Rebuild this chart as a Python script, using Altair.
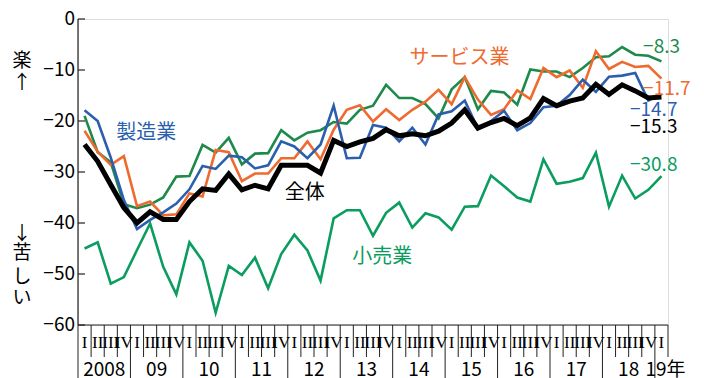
import altair as alt
import pandas as pd

# ---------------- data ----------------
roman = ["I", "II", "III", "IV"]
year_labels = ["2008", "09", "10", "11", "12", "13", "14", "15", "16", "17", "18"]
last_year_label = "19年"
y_ticks = [0, -10, -20, -30, -40, -50, -60]
y_tick_labels = ["0", "−10", "−20", "−30", "−40", "−50", "−60"]

overall = [-24.6, -27.9, -32.5, -37.0, -40.0, -37.8, -39.3, -39.3, -35.8, -33.3,
           -33.6, -30.4, -33.5, -32.6, -33.3, -28.7, -28.7, -28.7, -30.2, -23.8,
           -25.0, -24.1, -23.4, -21.7, -22.9, -22.5, -22.9, -22.0, -20.4, -17.8,
           -21.4, -20.3, -19.5, -20.9, -19.4, -15.6, -17.0, -16.1, -15.5, -12.8,
           -14.8, -12.9, -14.1, -15.5, -15.3]
manufacturing = [-17.9, -20.0, -27.2, -35.5, -41.2, -39.4, -37.9, -36.2, -33.4, -28.8,
                 -29.4, -26.8, -27.1, -29.3, -28.7, -24.0, -25.0, -27.3, -24.6, -17.0,
                 -27.3, -27.2, -20.8, -21.3, -24.0, -21.3, -24.6, -18.7, -18.1, -16.0,
                 -21.5, -20.0, -18.0, -21.8, -20.4, -17.3, -17.0, -14.9, -11.9, -14.3,
                 -11.3, -11.1, -10.6, -16.0, -14.7]
services = [-21.9, -26.0, -28.6, -26.9, -36.7, -35.8, -38.5, -38.3, -34.2, -34.8,
            -25.7, -26.1, -31.8, -30.3, -30.3, -27.3, -27.3, -24.0, -27.5, -21.7,
            -17.8, -16.9, -20.1, -17.7, -19.8, -17.8, -16.2, -13.9, -16.7, -11.4,
            -15.8, -18.8, -17.7, -14.0, -15.7, -9.6, -11.4, -10.1, -13.5, -6.3,
            -9.8, -8.4, -9.4, -9.2, -11.7]
other = [-19.0, -26.1, -28.1, -36.3, -37.1, -36.4, -35.0, -30.9, -30.8, -24.7,
         -26.2, -23.3, -28.5, -26.4, -26.3, -21.8, -23.8, -22.3, -21.8, -20.2,
         -20.5, -17.8, -17.0, -12.9, -15.5, -15.5, -16.7, -19.5, -13.8, -11.4,
         -17.7, -14.1, -14.4, -16.8, -9.9, -10.3, -10.3, -11.4, -9.6, -7.5,
         -7.3, -5.5, -7.0, -7.2, -8.3]
retail = [-45.0, -43.8, -51.9, -50.6, -45.3, -40.1, -48.6, -54.0, -43.8, -47.4,
          -57.6, -48.4, -50.2, -46.8, -52.8, -46.1, -42.3, -45.4, -51.3, -39.1,
          -37.5, -37.5, -42.5, -38.0, -36.0, -40.9, -38.1, -38.9, -41.3, -36.8,
          -36.7, -30.7, -32.8, -35.0, -35.8, -27.5, -32.3, -31.9, -31.2, -26.2,
          -36.8, -30.7, -35.2, -33.5, -30.8]

series_names = ["その他", "サービス業", "製造業", "小売業"]
series_colors = ["#1d8a4c", "#ef6a2f", "#2b5fad", "#0b9c60"]
black = "#000000"

# labels: text, x (quarter index), y (value), colour
name_labels = [
    ("製造業", 4.7, -22.3, "#2b5fad"),
    ("サービス業", 28.6, -7.6, "#ef6a2f"),
    ("全体", 16.8, -34.1, black),
    ("小売業", 22.7, -46.6, "#0b9c60"),
]
end_labels = [
    ("−8.3", 42.6, -5.4, "#1d8a4c"),
    ("−11.7", 42.6, -13.7, "#ef6a2f"),
    ("−14.7", 41.6, -17.8, "#2b5fad"),
    ("−15.3", 41.6, -21.1, black),
    ("−30.8", 41.6, -28.6, "#0b9c60"),
]
side_labels = [("楽", -8.2), ("↑", -12.5), ("↓", -42.1), ("苦", -45.8), ("し", -50.5), ("い", -54.8)]
side_x = -4.77

# ---------------- build tables ----------------
n = len(overall)
W, H = 590, 306
JP = "Noto Sans CJK JP"

rows = []
for name, vals in zip(series_names, [other, services, manufacturing, retail]):
    for i, v in enumerate(vals):
        rows.append({"idx": i, "value": v, "series": name})
df_col = pd.DataFrame(rows)
df_all = pd.DataFrame({"idx": list(range(n)), "value": overall})

x_scale = alt.Scale(domain=[-0.5, n - 0.5], nice=False, zero=False)
y_scale = alt.Scale(domain=[-60, 0], nice=False, zero=False)

X = lambda f: alt.X(f, scale=x_scale, axis=None)
Y = lambda f: alt.Y(f, scale=y_scale, axis=None)

colored = alt.Chart(df_col).mark_line(strokeWidth=2.6).encode(
    x=X("idx:Q"), y=Y("value:Q"),
    color=alt.Color("series:N", scale=alt.Scale(domain=series_names, range=series_colors), legend=None),
)

total_line = alt.Chart(df_all).mark_line(strokeWidth=5, color=black).encode(
    x=X("idx:Q"), y=Y("value:Q"),
)

# y axis line, inward ticks and labels
y_domain = alt.Chart(pd.DataFrame({"a": [0]})).mark_rule(color="#222", strokeWidth=1.2).encode(
    x=alt.value(0), y=alt.value(0), y2=alt.value(H),
)
df_t = pd.DataFrame({"t": y_ticks, "lab": y_tick_labels})
ticks = alt.Chart(df_t).mark_rule(color="#222", strokeWidth=1.2).encode(
    y=Y("t:Q"), x=alt.value(0), x2=alt.value(7),
)
tick_text = alt.Chart(df_t).mark_text(font=JP, fontSize=19, align="right", baseline="middle",
                                      color="black").encode(
    y=Y("t:Q"), x=alt.value(-3), text="lab:N",
)

bottom = alt.Chart(pd.DataFrame({"a": [0]})).mark_rule(color="#222", strokeWidth=1.2).encode(
    x=alt.value(0), x2=alt.value(W), y=alt.value(H),
)

bounds = [i - 0.5 for i in range(n + 1)]
q_bounds = pd.DataFrame({"b": [b for k, b in enumerate(bounds) if not (k % 4 == 0 and k < n)]})
y_bounds = pd.DataFrame({"b": [b for k, b in enumerate(bounds) if (k % 4 == 0 and k < n)]})

q_rules = alt.Chart(q_bounds).mark_rule(color="#222", strokeWidth=1).encode(
    x=X("b:Q"), y=alt.value(H), y2=alt.value(H + 32),
)
y_rules = alt.Chart(y_bounds).mark_rule(color="#222", strokeWidth=1).encode(
    x=X("b:Q"), y=alt.value(H), y2=alt.value(H + 60),
)

df_q = pd.DataFrame({"idx": list(range(n)), "lab": [roman[i % 4] for i in range(n)]})
q_text = alt.Chart(df_q).mark_text(font="Liberation Serif", fontSize=17, baseline="middle",
                                   align="center", color="black").encode(
    x=X("idx:Q"), y=alt.value(H + 17.5), text="lab:N",
)

df_y = pd.DataFrame({"pos": [4 * k + 1.5 for k in range(len(year_labels))], "lab": year_labels})
y_text = alt.Chart(df_y).mark_text(font=JP, fontSize=19, baseline="middle", align="center",
                                   color="black").encode(
    x=X("pos:Q"), y=alt.value(H + 45), text="lab:N",
)
y_last = alt.Chart(pd.DataFrame({"pos": [n - 1], "lab": [last_year_label]})).mark_text(
    font=JP, fontSize=19, baseline="middle", align="center", color="black", dx=4).encode(
    x=X("pos:Q"), y=alt.value(H + 45), text="lab:N",
)

df_names = pd.DataFrame(name_labels, columns=["t", "x", "y", "c"])
names = alt.Chart(df_names).mark_text(font=JP, fontSize=20, baseline="middle", align="center").encode(
    x=X("x:Q"), y=Y("y:Q"), text="t:N", color=alt.Color("c:N", scale=None),
)

df_end = pd.DataFrame(end_labels, columns=["t", "x", "y", "c"])
ends = alt.Chart(df_end).mark_text(font=JP, fontSize=19, baseline="middle", align="left").encode(
    x=X("x:Q"), y=Y("y:Q"), text="t:N", color=alt.Color("c:N", scale=None),
)

df_side = pd.DataFrame({"t": [s[0] for s in side_labels], "y": [s[1] for s in side_labels],
                        "x": [side_x] * len(side_labels)})
side = alt.Chart(df_side).mark_text(font=JP, fontSize=19, baseline="middle", align="center",
                                    color="black").encode(
    x=X("x:Q"), y=Y("y:Q"), text="t:N",
)

chart = alt.layer(
    colored, total_line, y_domain, ticks, tick_text, bottom, q_rules, y_rules,
    q_text, y_text, y_last, names, ends, side
).properties(
    width=W, height=H,
    autosize=alt.AutoSizeParams(type="none"),
    padding={"left": 70, "top": 11, "right": 28, "bottom": 53},
).configure_view(stroke=None).configure(background="white")

chart.save("out.html", embed_options={"renderer": "svg", "actions": False})
